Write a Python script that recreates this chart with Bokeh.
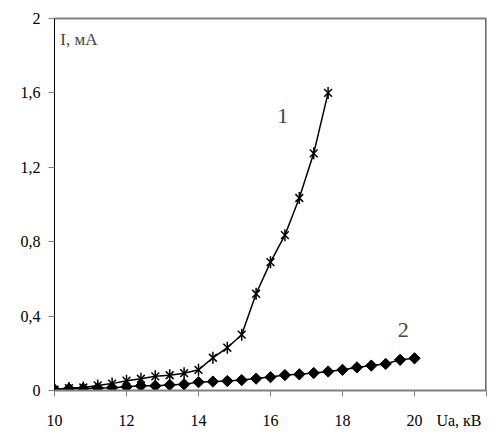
import math
from bokeh.plotting import figure
from bokeh.models import Range1d, FixedTicker, Label, LinearAxis
from bokeh.embed import file_html
from bokeh.resources import INLINE

# Series 1 (stars)
x1 = [10.0, 10.4, 10.8, 11.2, 11.6, 12.0, 12.4, 12.8, 13.2, 13.6,
      14.0, 14.4, 14.8, 15.2, 15.6, 16.0, 16.4, 16.8, 17.2, 17.6]
y1 = [0.005, 0.013, 0.016, 0.027, 0.037, 0.053, 0.063, 0.076, 0.082, 0.093,
      0.111, 0.176, 0.23, 0.30, 0.52, 0.69, 0.835, 1.035, 1.275, 1.60]

# Series 2 (diamonds)
x2 = [10.0, 10.4, 10.8, 11.2, 11.6, 12.0, 12.4, 12.8, 13.2, 13.6,
      14.0, 14.4, 14.8, 15.2, 15.6, 16.0, 16.4, 16.8, 17.2, 17.6,
      18.0, 18.4, 18.8, 19.2, 19.6, 20.0]
y2 = [0.005, 0.010, 0.010, 0.013, 0.015, 0.020, 0.025, 0.025, 0.030, 0.033,
      0.045, 0.048, 0.051, 0.056, 0.064, 0.072, 0.083, 0.087, 0.094, 0.102,
      0.111, 0.124, 0.134, 0.143, 0.165, 0.173]

x_ticks = [10, 12, 14, 16, 18, 20, 22]
x_axis_title = "Ua, кВ"
x_tick_labels = ["10", "12", "14", "16", "18", "20", x_axis_title + "\u00a0" * 5]
y_ticks = [0, 0.4, 0.8, 1.2, 1.6, 2]
y_tick_labels = ["0", "0,4", "0,8", "1,2", "1,6", "2"]
x_max = 22
y_max = 2

FONT = "Liberation Serif"
GRAY = "#808080"

p = figure(width=501, height=431,
           min_border_left=54, min_border_right=15,
           min_border_top=18, min_border_bottom=39,
           x_range=Range1d(10, x_max), y_range=Range1d(0, y_max),
           output_backend="svg", toolbar_location=None,
           background_fill_color="white", border_fill_color="white")
p.outline_line_color = None
p.xgrid.grid_line_color = None
p.ygrid.grid_line_color = None

# axes
p.xaxis.ticker = FixedTicker(ticks=x_ticks)
p.xaxis.major_label_overrides = dict(zip(x_ticks, x_tick_labels))
p.yaxis.ticker = FixedTicker(ticks=y_ticks)
p.yaxis.major_label_overrides = dict(zip(y_ticks, y_tick_labels))
for ax in (p.xaxis[0], p.yaxis[0]):
    ax.minor_tick_line_color = None
    ax.major_tick_in = 0
    ax.major_tick_out = 6
    ax.major_tick_line_color = GRAY
    ax.major_label_text_font = FONT
    ax.major_label_text_font_size = "16px"
    ax.major_label_text_color = "black"
p.xaxis.axis_line_color = GRAY
p.xaxis.axis_line_width = 2
p.xaxis.major_label_standoff = 15
p.yaxis.axis_line_color = "black"
p.yaxis.axis_line_width = 1
p.yaxis.major_label_standoff = 8

# top frame border (gray)
top_ax = LinearAxis(ticker=FixedTicker(ticks=[]), axis_line_color=GRAY,
                    axis_line_width=2, major_label_text_font_size="0px",
                    major_label_standoff=0, major_tick_out=0,
                    major_tick_line_color=None, minor_tick_line_color=None)
p.add_layout(top_ax, "above")

# right frame border (black), drawn just inside the frame edge
p.segment(x0=[x_max - 0.012], y0=[0], x1=[x_max - 0.012], y1=[y_max],
          line_color="black", line_width=1.3)

# series 1
p.line(x1, y1, line_color="black", line_width=1.5)
p.scatter(x1, y1, marker="x", size=11, line_color="black", line_width=1.5)
p.scatter(x1, y1, marker="dash", size=12, angle=math.pi / 2,
          line_color="black", line_width=1.5)

# series 2
p.line(x2, y2, line_color="black", line_width=1.5)
p.scatter(x2, y2, marker="square", size=8, angle=math.pi / 4,
          fill_color="black", line_color="black")

# labels
p.add_layout(Label(x=10.16, y=1.94, text="I, мА", text_font=FONT,
                   text_font_size="17px", text_baseline="top", text_align="left"))
p.add_layout(Label(x=16.34, y=1.474, text="1", text_font=FONT,
                   text_font_size="22px", text_baseline="middle", text_align="center"))
p.add_layout(Label(x=19.69, y=0.325, text="2", text_font=FONT,
                   text_font_size="22px", text_baseline="middle", text_align="center"))

open("out.html", "w").write(file_html(p, INLINE))
